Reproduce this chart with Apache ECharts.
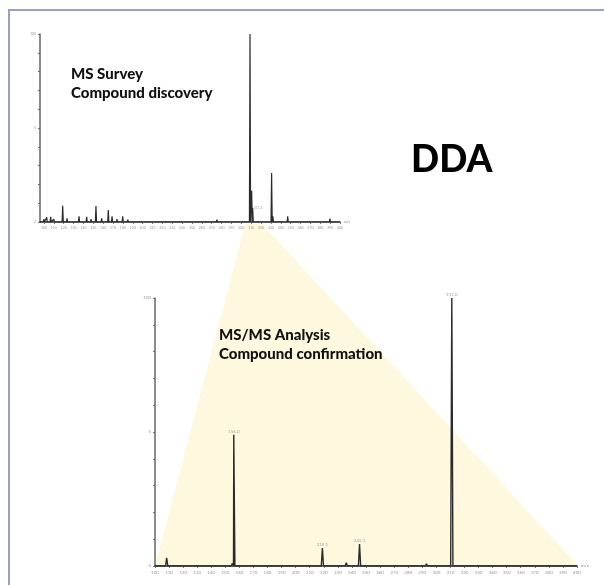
<!DOCTYPE html>
<html>
<head>
<meta charset="utf-8">
<script src="https://cdn.jsdelivr.net/npm/echarts@6/dist/echarts.min.js"></script>
<style>
html,body{margin:0;padding:0;background:#fff;}
#chart{width:604px;height:585px;}
</style>
</head>
<body>
<div id="chart"></div>
<script>
// ---- data ----
const surveyMz  = [100, 102.8, 106.8, 110, 119, 123.4, 128.4, 135.5, 143.3, 147.7, 152.7, 158.5, 165.2, 169, 174, 179.8, 185, 192, 207.4, 222.6, 237.8, 275.3, 297.6, 308.8, 310.5, 311.5, 330.7, 332, 347, 351.3, 389.8];
const surveyInt = [1.5, 2.5, 2.7, 1.5, 8.6, 2, 1, 3, 2.8, 1.5, 8.5, 2, 6.4, 3, 1.5, 3, 1.2, 1, 0.8, 0.8, 0.6, 1.2, 1, 100, 16.6, 7.5, 26, 3, 3, 1, 1.8];
const surveyLabelMz   = [311.5];
const surveyLabelInt  = [7.5];
const surveyLabelText = ['311.1'];

const msmsMz  = [108.3, 127, 155, 156, 173, 219, 232, 236, 245.4, 247, 293, 311, 371];
const msmsInt = [3, 0.6, 1, 49, 0.5, 6.7, 0.5, 1.2, 8.2, 0.6, 0.8, 100, 0.4];
const msmsLabelMz   = [156, 219, 245.4, 311];
const msmsLabelInt  = [49, 6.7, 8.2, 100];
const msmsLabelText = ['156.0', '219.1', '245.1', '311.0'];

const xTicks = [100,110,120,130,140,150,160,170,180,190,200,210,220,230,240,250,260,270,280,290,300,310,320,330,340,350,360,370,380,390,400];
const yTickValues = [0, 50, 100];
const yTickLabels = ['0', '5', '100'];
const yMinorTicks = [0,10,20,30,40,50,60,70,80,90,100];

const titles = {
  survey1: 'MS Survey',
  survey2: 'Compound discovery',
  dda: 'DDA',
  msms1: 'MS/MS Analysis',
  msms2: 'Compound confirma\u200Ction'
};

// ---- build profile lines from peak lists ----
function profile(mz, inten, hw, lo, hi) {
  const idx = mz.map((m, i) => i).sort((a, b) => mz[a] - mz[b]);
  const pts = [[lo, 0]];
  idx.forEach(i => {
    pts.push([mz[i] - hw, 0], [mz[i], inten[i]], [mz[i] + hw, 0]);
  });
  pts.push([hi, 0]);
  return pts;
}

const FONT = 'Lato, "Noto Sans", "DejaVu Sans", sans-serif';
const chart = echarts.init(document.getElementById('chart'), null, {renderer: 'canvas'});

function xAxisCfg(gridIndex, min, fs) {
  return {
    type: 'value', gridIndex, min, max: 400,
    name: 'm/z', nameLocation: 'end', nameGap: 4,
    nameTextStyle: {fontSize: fs, color: '#888', fontFamily: FONT},
    axisLine: {show: true, lineStyle: {color: '#333', width: 1.5}},
    axisTick: {show: true, length: 2, lineStyle: {color: '#555', width: 0.8}, customValues: xTicks},
    axisLabel: {show: true, fontSize: fs, color: '#999', margin: 4, customValues: xTicks, fontFamily: FONT},
    splitLine: {show: false}
  };
}
function yAxisCfg(gridIndex, fs) {
  return {
    type: 'value', gridIndex, min: 0, max: 100,
    axisLine: {show: true, lineStyle: {color: '#666', width: 1.5}},
    axisTick: {show: true, length: 2, lineStyle: {color: '#555', width: 0.8}, customValues: yMinorTicks},
    axisLabel: {show: true, fontSize: fs, color: '#999', margin: 4, customValues: yTickValues,
      formatter: v => yTickLabels[yTickValues.indexOf(v)] || '', fontFamily: FONT},
    splitLine: {show: false}
  };
}

chart.setOption({
  animation: false,
  backgroundColor: '#fff',
  grid: [
    {left: 40, top: 34, width: 300, height: 188},
    {left: 155, top: 298, width: 422, height: 268}
  ],
  xAxis: [xAxisCfg(0, 96, 3.5), xAxisCfg(1, 100, 4.5)],
  yAxis: [yAxisCfg(0, 3.5), yAxisCfg(1, 4.5)],
  series: [
    {
      type: 'line', xAxisIndex: 0, yAxisIndex: 0, symbol: 'none', z: 3,
      data: profile(surveyMz, surveyInt, 0.6, 96, 400),
      lineStyle: {color: '#2b2b2b', width: 1.2}
    },
    {
      type: 'line', xAxisIndex: 1, yAxisIndex: 1, symbol: 'none', z: 3,
      data: profile(msmsMz, msmsInt, 0.8, 100, 400),
      lineStyle: {color: '#2b2b2b', width: 1.4}
    },
    {
      type: 'scatter', xAxisIndex: 0, yAxisIndex: 0, symbolSize: 0, z: 4,
      data: surveyLabelMz.map((m, i) => [m, surveyLabelInt[i]]),
      label: {show: true, position: 'right', distance: 1, fontSize: 3.5, color: '#888', fontFamily: FONT,
        formatter: p => surveyLabelText[p.dataIndex]}
    },
    {
      type: 'scatter', xAxisIndex: 1, yAxisIndex: 1, symbolSize: 0, z: 4,
      data: msmsLabelMz.map((m, i) => [m, msmsLabelInt[i]]),
      label: {show: true, position: 'top', distance: 1, fontSize: 4.5, color: '#888', fontFamily: FONT,
        formatter: p => msmsLabelText[p.dataIndex]}
    }
  ]
});

// zoom trapezoid from survey precursor region to full MS/MS axis
const tL = chart.convertToPixel({gridIndex: 0}, [304, 0]);
const tR = chart.convertToPixel({gridIndex: 0}, [321, 0]);
const bL = chart.convertToPixel({gridIndex: 1}, [100, 0]);
const bR = chart.convertToPixel({gridIndex: 1}, [401, 0]);

chart.setOption({
  graphic: [
    {type: 'polygon', z: -10, silent: true,
      shape: {points: [[tL[0], tL[1] + 2], [tR[0], tR[1] + 2], [bR[0], bR[1]], [bL[0], bL[1]]]},
      style: {fill: 'rgb(254,249,222)'}},
    {type: 'line', z: 10, shape: {x1: 9, y1: 10, x2: 9, y2: 585}, style: {stroke: '#9c9fc4', lineWidth: 2}},
    {type: 'line', z: 10, shape: {x1: 8, y1: 10, x2: 604, y2: 10}, style: {stroke: '#9c9fc4', lineWidth: 2}},
    {type: 'text', z: 20, left: 71, top: 67, style: {text: titles.survey1, font: '900 15px ' + FONT, fill: '#111'}},
    {type: 'text', z: 20, left: 71, top: 86, style: {text: titles.survey2, font: '900 15px ' + FONT, fill: '#111'}},
    {type: 'text', z: 20, left: 411, top: 142, style: {text: titles.dda, font: '900 37px ' + FONT, fill: '#000'}},
    {type: 'text', z: 20, left: 219, top: 328, style: {text: titles.msms1, font: '900 15px ' + FONT, fill: '#111'}},
    {type: 'text', z: 20, left: 219, top: 347, style: {text: titles.msms2, font: '900 15px ' + FONT, fill: '#111'}}
  ]
});
</script>
</body>
</html>
